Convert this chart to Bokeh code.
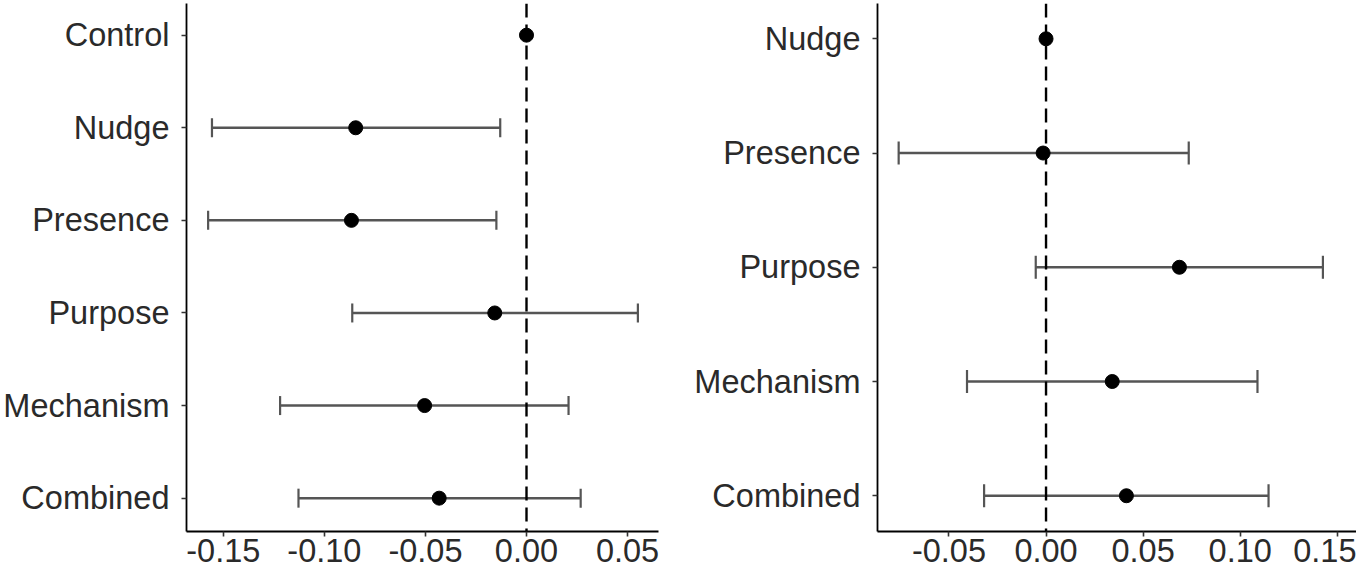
from bokeh.plotting import figure
from bokeh.models import (Range1d, FixedTicker, NumeralTickFormatter, Whisker,
                          TeeHead, ColumnDataSource, Span)
from bokeh.layouts import row
from bokeh.embed import file_html
from bokeh.resources import INLINE

# ---- data ----
left_groups = ["Control", "Nudge", "Presence", "Purpose", "Mechanism", "Combined"]
left_est = [0.0, -0.0845, -0.0866, -0.0157, -0.0504, -0.0432]
left_lo = [None, -0.1556, -0.1575, -0.0862, -0.1219, -0.1128]
left_hi = [None, -0.0130, -0.0149, 0.0551, 0.0208, 0.0268]
left_ticks = [-0.15, -0.10, -0.05, 0.00, 0.05]

right_groups = ["Nudge", "Presence", "Purpose", "Mechanism", "Combined"]
right_est = [0.0, -0.0015, 0.0687, 0.0341, 0.0414]
right_lo = [None, -0.0759, -0.0053, -0.0407, -0.0319]
right_hi = [None, 0.0735, 0.1426, 0.1089, 0.1146]
right_ticks = [-0.05, 0.00, 0.05, 0.10, 0.15]

FONT = "Liberation Sans"
TXT = "#2a2a2a"


def make_panel(groups, est, lo, hi, ticks, xr, yr, width, mb_left, mb_right,
               mb_bottom, cap):
    n = len(groups)
    ypos = [n - 1 - i for i in range(n)]
    p = figure(width=width, height=578,
               x_range=Range1d(xr[0], xr[1]),
               y_range=Range1d(yr[0], n - 1 + yr[1]),
               output_backend="svg", toolbar_location=None,
               min_border_left=mb_left, min_border_right=mb_right,
               min_border_top=3, min_border_bottom=mb_bottom)
    p.outline_line_color = None
    p.xgrid.visible = False
    p.ygrid.visible = False
    p.background_fill_color = "white"
    p.border_fill_color = "white"

    # reference line at zero
    p.add_layout(Span(location=0, dimension="height", line_color="black",
                      line_width=2.4, line_dash="14 7"))

    wy = [y for y, l in zip(ypos, lo) if l is not None]
    wl = [l for l in lo if l is not None]
    wh = [h for l, h in zip(lo, hi) if l is not None]
    wsrc = ColumnDataSource(dict(y=wy, lo=wl, hi=wh))
    p.segment(x0="lo", x1="hi", y0="y", y1="y", source=wsrc,
              line_color="#555555", line_width=2.5)
    w = Whisker(base="y", lower="lo", upper="hi", dimension="width", source=wsrc,
                line_color="#555555", line_width=0,
                upper_head=TeeHead(size=cap, line_color="#555555", line_width=2.2),
                lower_head=TeeHead(size=cap, line_color="#555555", line_width=2.2))
    p.add_layout(w)

    psrc = ColumnDataSource(dict(x=est, y=ypos))
    p.scatter(x="x", y="y", source=psrc, size=14, fill_color="black",
              line_color="black")

    # axes
    xa = p.xaxis[0]
    xa.ticker = FixedTicker(ticks=ticks)
    xa.formatter = NumeralTickFormatter(format="0.00")
    ya = p.yaxis[0]
    ya.ticker = FixedTicker(ticks=ypos)
    ya.major_label_overrides = {y: g for y, g in zip(ypos, groups)}
    for ax in (xa, ya):
        ax.axis_line_color = "black"
        ax.axis_line_width = 1.8
        ax.major_tick_line_color = "#333333"
        ax.major_tick_line_width = 1.6
        ax.major_tick_out = 5
        ax.major_tick_in = 0
        ax.minor_tick_line_color = None
        ax.major_label_text_font = FONT
        ax.major_label_text_font_size = "32.5px"
        ax.major_label_text_color = TXT
    xa.major_label_standoff = 2
    ya.major_label_standoff = 12
    return p


left = make_panel(left_groups, left_est, left_lo, left_hi, left_ticks,
                  (-0.1682, 0.0653), (-0.36, 0.342), 691, 182, 33, 41, 19)
right = make_panel(right_groups, right_est, right_lo, right_hi, right_ticks,
                   (-0.0868, 0.1599), (-0.313, 0.309), 665, 182, 0, 47, 23)

layout = row(left, right)
open("out.html", "w").write(file_html(layout, INLINE))
